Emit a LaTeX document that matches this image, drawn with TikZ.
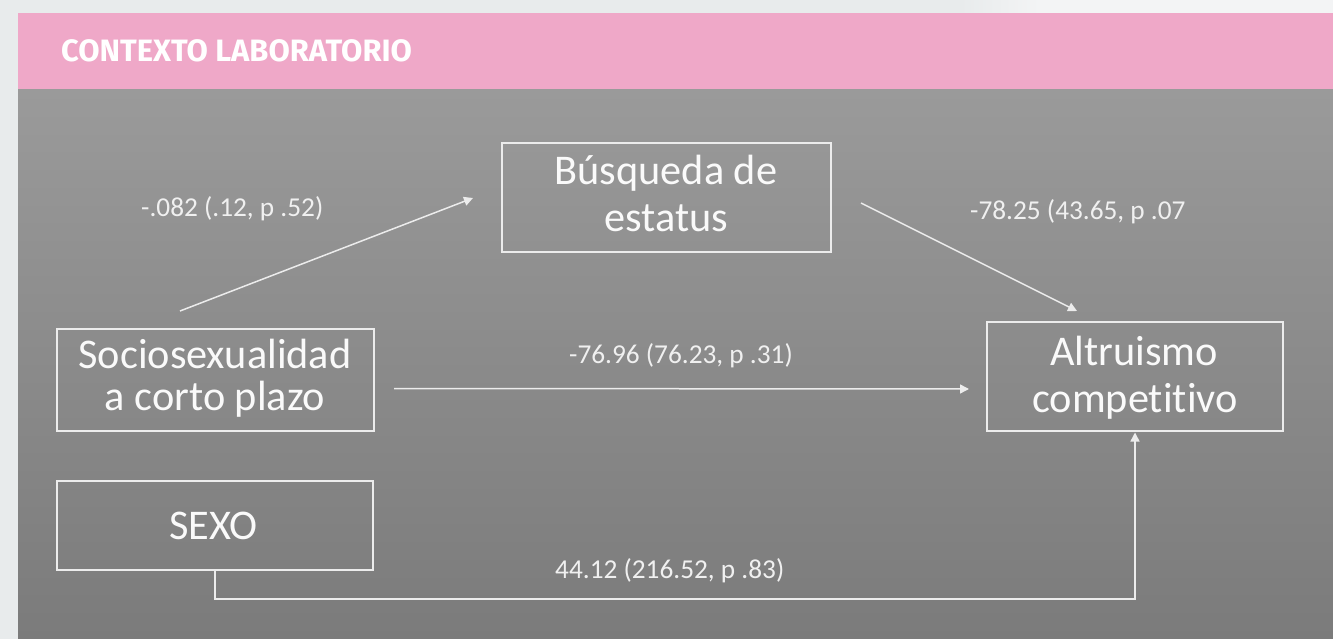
\documentclass[tikz,border=0pt]{standalone}
\usepackage{fontspec}
\setmainfont{Carlito}[Ligatures={NoCommon}]
\newfontfamily\headfont{Fira Sans}
\usetikzlibrary{arrows.meta}
\definecolor{pinkband}{RGB}{239,168,200}
\definecolor{outerbg}{RGB}{232,235,236}
\definecolor{outerlight}{RGB}{243,244,245}
\definecolor{panTop}{RGB}{154,154,154}
\definecolor{panBot}{RGB}{123,123,123}
\definecolor{lineW}{RGB}{236,236,236}
\definecolor{txtW}{RGB}{250,250,250}
\definecolor{coefW}{RGB}{240,240,240}
\begin{document}
\begin{tikzpicture}[x=1pt,y=-1pt,
  boxnode/.style={draw=lineW, line width=1.5pt, rectangle, inner sep=0pt, outer sep=0pt},
  bigtext/.style={text=txtW, font=\fontsize{42.3}{42.3}\selectfont, anchor=base, inner sep=0pt},
  coef/.style={text=coefW, font=\fontsize{27.3}{27.3}\selectfont, anchor=base west, inner sep=0pt},
  conn/.style={draw=lineW, line width=1.5pt, -{Triangle[length=9pt,width=9pt]}}]
\useasboundingbox (0,0) rectangle (1333,639);
% background
\fill[outerbg] (0,0) rectangle (1333,639);
\shade[left color=outerbg, right color=outerlight] (960,0) rectangle (1040,13);
\fill[outerlight] (1040,0) rectangle (1333,13);
\fill[pinkband] (18,13) rectangle (1333,90);
\shade[top color=panTop, bottom color=panBot] (18,90) rectangle (1333,639);
% title
\node[anchor=base west, inner sep=0pt, text=white, font=\headfont\bfseries\fontsize{30.9}{30.9}\selectfont] (title) at (61,62) {CONTEXTO LABORATORIO};
% boxes
\node[boxnode, minimum width=329pt, minimum height=109pt] (busq) at (666.5,197.5) {};
\node[boxnode, minimum width=317pt, minimum height=102pt] (socio) at (215.5,380) {};
\node[boxnode, minimum width=296pt, minimum height=109pt] (altr) at (1135,376.5) {};
\node[boxnode, minimum width=316pt, minimum height=89pt] (sexo) at (215,525.5) {};
% box texts
\node[bigtext] (busqA) at (666,185) {Búsqueda de};
\node[bigtext] (busqB) at (666.5,232) {estatus};
\node[bigtext] (socioA) at (215,368) {Sociosexualidad};
\node[bigtext] (socioB) at (215,410) {a corto plazo};
\node[bigtext] (altrA) at (1134,365) {Altruismo};
\node[bigtext] (altrB) at (1135,412) {competitivo};
\node[bigtext] (sexoT) at (213.5,539) {SEXO};
% coefficient labels
\node[coef] (k1) at (141,217) {-.082 (.12, p .52)};
\node[coef] (k2) at (970,219) {-78.25 (43.65, p .07};
\node[coef] (k3) at (569,363) {-76.96 (76.23, p .31)};
\node[coef] (k4) at (555,578) {44.12 (216.52, p .83)};
% connector end points
\coordinate (c1s) at (180,311);
\coordinate (c1e) at (473,198);
\coordinate (c2s) at (861,203);
\coordinate (c2e) at (1077,311);
\coordinate (c3s) at (394,388.5);
\coordinate (c3e) at (969,389);
\coordinate (c4) at (1135,599);
% connectors
\draw[conn] (c1s) -- (c1e);
\draw[conn] (c2s) -- (c2e);
\draw[conn] (c3s) -- (c3e);
\draw[conn, shorten >=1.5pt] (sexo.south) |- (c4) -- (altr.south);
\end{tikzpicture}
\end{document}
